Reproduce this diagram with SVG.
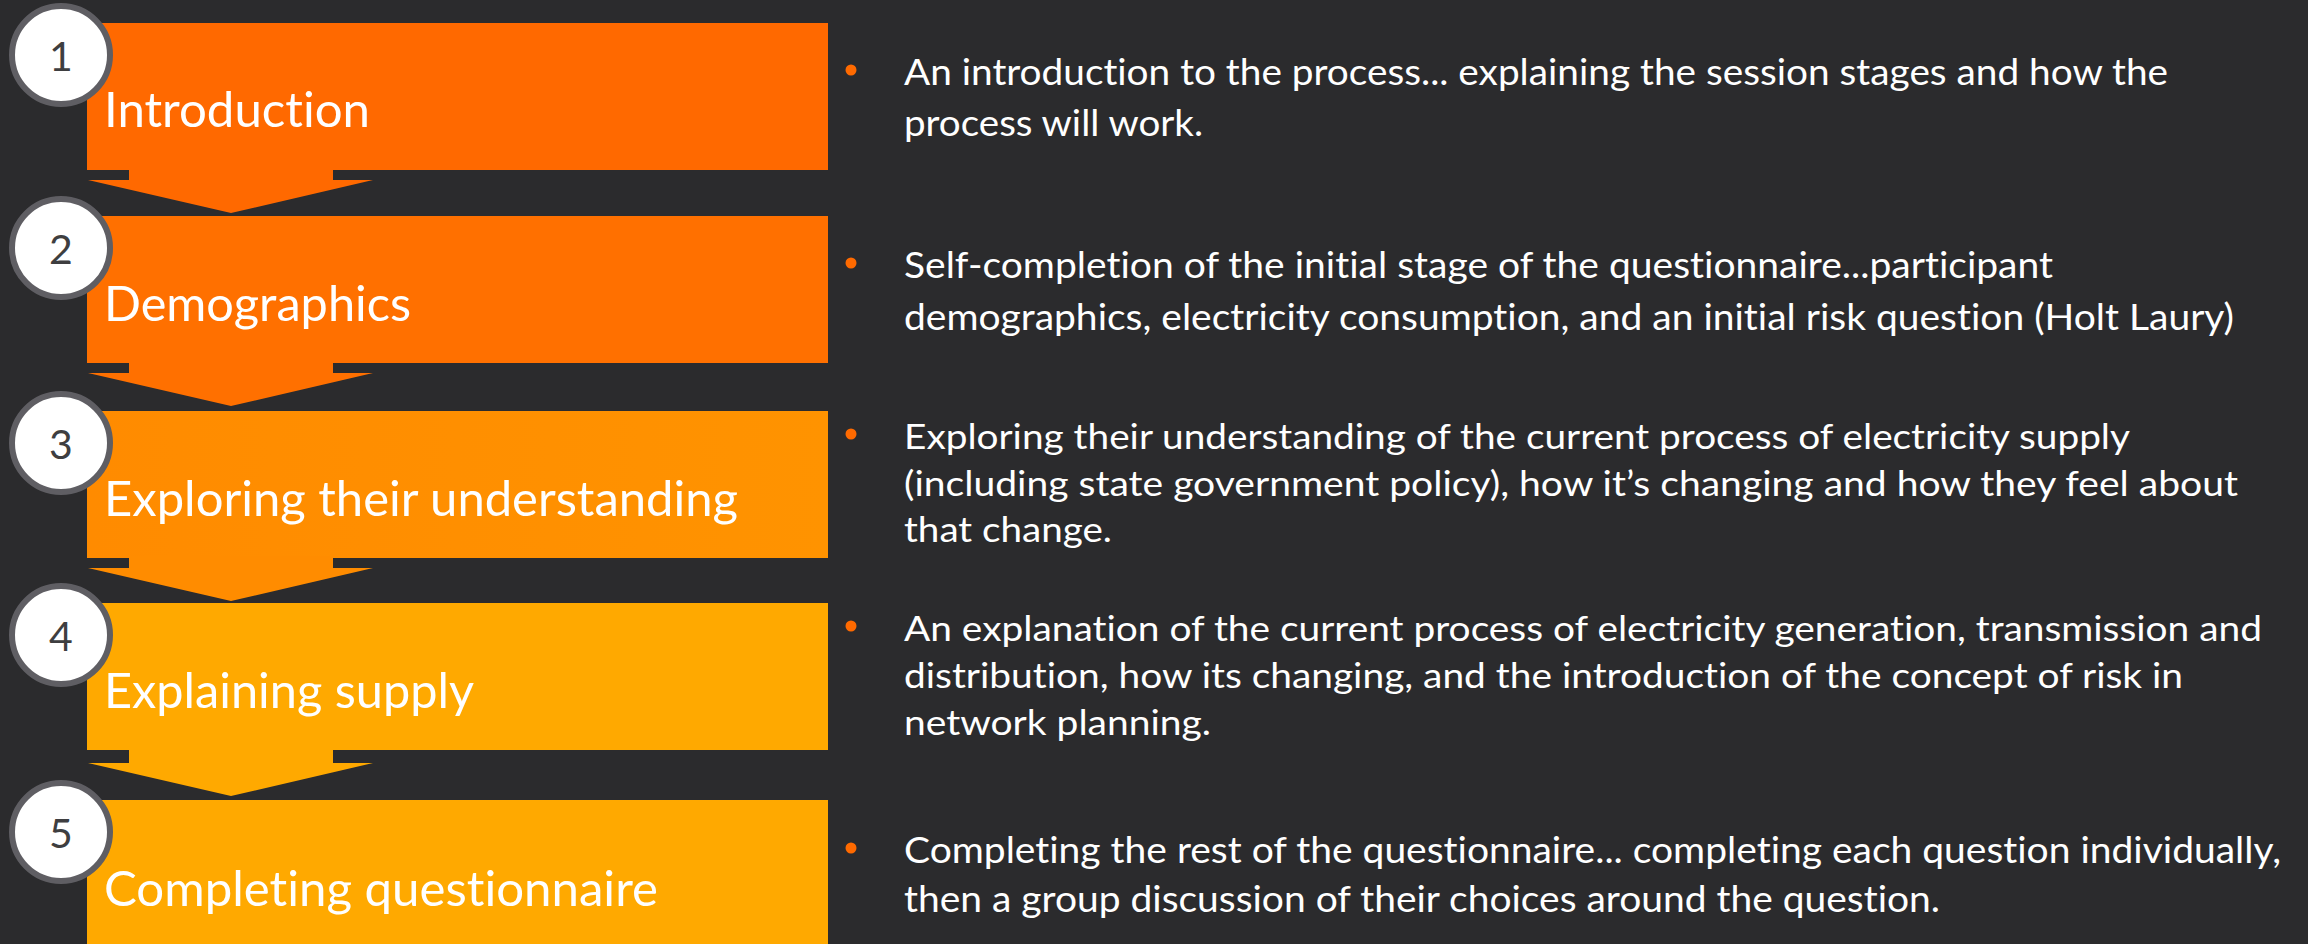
<svg xmlns="http://www.w3.org/2000/svg" width="2308" height="944" viewBox="0 0 2308 944">
  <style>
    text { font-variant-ligatures: none; font-feature-settings: "liga" 0, "dlig" 0; }
    .bg { fill: #2B2B2D; }
    .badge { fill: #FFFFFF; stroke: #5F5E63; stroke-width: 6; }
    .num { font-family: Lato, "Liberation Sans", sans-serif; font-size: 41px; fill: #3E3E40; text-anchor: middle; }
    .label { font-family: Lato, "Liberation Sans", sans-serif; font-size: 48.5px; fill: #FFFFFF; }
    .desc { font-family: Lato, "Liberation Sans", sans-serif; fill: #FFFFFF; }
    .d1 { font-size: 37.3px; }
    .d2 { font-size: 35px; }
    .d3 { font-size: 36px; }
    .bullet { fill: #FF6A00; }
  </style>
  <defs>
    <linearGradient id="g3" x1="0" y1="0" x2="1" y2="0">
      <stop offset="0" stop-color="#FF8B00"/>
      <stop offset="1" stop-color="#FF9300"/>
    </linearGradient>
  </defs>

  <rect class="bg" x="0" y="0" width="2308" height="944"/>

  <!-- step boxes -->
  <g id="step-1">
    <rect x="87" y="23" width="741" height="147" fill="#FF6900"/>
  </g>
  <g id="step-2">
    <rect x="87" y="216" width="741" height="147" fill="#FF7000"/>
  </g>
  <g id="step-3">
    <rect x="87" y="411" width="741" height="147" fill="url(#g3)"/>
  </g>
  <g id="step-4">
    <rect x="87" y="603" width="741" height="147" fill="#FFA900"/>
  </g>
  <g id="step-5">
    <rect x="87" y="800" width="741" height="144" fill="#FFA900"/>
  </g>

  <!-- block arrows between steps -->
  <g id="connectors">
    <polygon fill="#FF6900" points="129,168 333,168 333,180 373,180 231,213 88,180 129,180"/>
    <polygon fill="#FF7000" points="129,361 333,361 333,373 373,373 231,406 88,373 129,373"/>
    <polygon fill="#FF8C00" points="129,556 333,556 333,568 373,568 231,601 88,568 129,568"/>
    <polygon fill="#FFA900" points="129,748 333,748 333,763 373,763 231,796 88,763 129,763"/>
  </g>

  <!-- numbered badges and titles -->
  <g id="step-1-title">
    <circle class="badge" cx="61" cy="55" r="49"/>
    <text class="num" x="61" y="71">1</text>
    <text class="label" x="104" y="127" textLength="266" lengthAdjust="spacingAndGlyphs">Introduction</text>
  </g>
  <g id="step-2-title">
    <circle class="badge" cx="61" cy="248" r="49"/>
    <text class="num" x="61" y="264">2</text>
    <text class="label" x="104" y="321" textLength="307" lengthAdjust="spacingAndGlyphs">Demographics</text>
  </g>
  <g id="step-3-title">
    <circle class="badge" cx="61" cy="443" r="49"/>
    <text class="num" x="61" y="459">3</text>
    <text class="label" x="104" y="516" textLength="634" lengthAdjust="spacingAndGlyphs">Exploring their understanding</text>
  </g>
  <g id="step-4-title">
    <circle class="badge" cx="61" cy="635" r="49"/>
    <text class="num" x="61" y="651">4</text>
    <text class="label" x="104" y="708" textLength="370" lengthAdjust="spacingAndGlyphs">Explaining supply</text>
  </g>
  <g id="step-5-title">
    <circle class="badge" cx="61" cy="832" r="49"/>
    <text class="num" x="61" y="848">5</text>
    <text class="label" x="104" y="906" textLength="554" lengthAdjust="spacingAndGlyphs">Completing questionnaire</text>
  </g>

  <!-- descriptions -->
  <g id="step-1-text">
    <circle class="bullet" cx="851" cy="70" r="5.5"/>
    <text class="desc d1" x="904" y="85" textLength="1264" lengthAdjust="spacingAndGlyphs">An introduction to the process... explaining the session stages and how the</text>
    <text class="desc d1" x="904" y="136" textLength="299" lengthAdjust="spacingAndGlyphs">process will work.</text>
  </g>
  <g id="step-2-text">
    <circle class="bullet" cx="851" cy="263" r="5.5"/>
    <text class="desc d1" x="904" y="278" textLength="1149" lengthAdjust="spacingAndGlyphs">Self-completion of the initial stage of the questionnaire...participant</text>
    <text class="desc d1" x="904" y="330" textLength="1330" lengthAdjust="spacingAndGlyphs">demographics, electricity consumption, and an initial risk question (Holt Laury)</text>
  </g>
  <g id="step-3-text">
    <circle class="bullet" cx="851" cy="434" r="5.5"/>
    <text class="desc d2" x="904" y="449" textLength="1226" lengthAdjust="spacingAndGlyphs">Exploring their understanding of the current process of electricity supply</text>
    <text class="desc d2" x="904" y="496" textLength="1334" lengthAdjust="spacingAndGlyphs">(including state government policy), how it’s changing and how they feel about</text>
    <text class="desc d2" x="904" y="542" textLength="208" lengthAdjust="spacingAndGlyphs">that change.</text>
  </g>
  <g id="step-4-text">
    <circle class="bullet" cx="851" cy="626" r="5.5"/>
    <text class="desc d2" x="904" y="641" textLength="1358" lengthAdjust="spacingAndGlyphs">An explanation of the current process of electricity generation, transmission and</text>
    <text class="desc d2" x="904" y="688" textLength="1279" lengthAdjust="spacingAndGlyphs">distribution, how its changing, and the introduction of the concept of risk in</text>
    <text class="desc d2" x="904" y="735" textLength="307" lengthAdjust="spacingAndGlyphs">network planning.</text>
  </g>
  <g id="step-5-text">
    <circle class="bullet" cx="851" cy="848" r="5.5"/>
    <text class="desc d3" x="904" y="863" textLength="1377" lengthAdjust="spacingAndGlyphs">Completing the rest of the questionnaire... completing each question individually,</text>
    <text class="desc d3" x="904" y="912" textLength="1036" lengthAdjust="spacingAndGlyphs">then a group discussion of their choices around the question.</text>
  </g>
</svg>
